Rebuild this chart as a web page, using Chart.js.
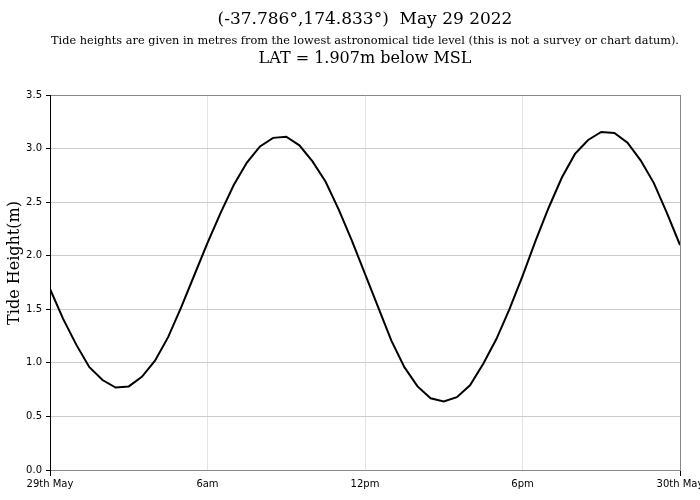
<!DOCTYPE html>
<html>
<head>
<meta charset="utf-8">
<script src="https://cdn.jsdelivr.net/npm/chart.js@4"></script>
<style>
  html, body { margin: 0; padding: 0; background: #fff; }
  #wrap { width: 700px; height: 500px; }
</style>
</head>
<body>
<div id="wrap"><canvas id="c" width="700" height="500"></canvas></div>
<script>
// Hours since midnight, 29 May 2022 (30-minute steps)
const hours = [0,0.5,1,1.5,2,2.5,3,3.5,4,4.5,5,5.5,6,6.5,7,7.5,8,8.5,9,9.5,10,10.5,11,11.5,12,
  12.5,13,13.5,14,14.5,15,15.5,16,16.5,17,17.5,18,18.5,19,19.5,20,20.5,21,21.5,22,22.5,23,23.5,24];
// Tide height (m above LAT)
const heights = [1.69,1.41,1.17,0.96,0.84,0.77,0.78,0.87,1.02,1.24,1.52,1.82,2.12,2.40,2.66,2.87,3.02,3.10,3.11,3.03,2.88,2.69,2.43,2.14,1.83,
  1.52,1.21,0.96,0.78,0.67,0.64,0.68,0.79,0.99,1.22,1.50,1.81,2.14,2.45,2.73,2.95,3.08,3.155,3.145,3.055,2.89,2.68,2.40,2.10];
const xTickValues = [0,6,12,18,24];
const xTickLabels = ['29th May','6am','12pm','6pm','30th May'];
const yTicks = [0,0.5,1,1.5,2,2.5,3,3.5];

const titleText = '(-37.786°,174.833°)  May 29 2022';
const subtitleText = 'Tide heights are given in metres from the lowest astronomical tide level (this is not a survey or chart datum).';
const latText = 'LAT = 1.907m below MSL';
const yTitle = 'Tide Height(m)';

const headerPlugin = {
  id: 'header',
  afterDraw(chart) {
    const ctx = chart.ctx;
    const cx = (chart.chartArea.left + chart.chartArea.right) / 2;
    ctx.save();
    ctx.fillStyle = '#000';
    ctx.textAlign = 'center';
    ctx.textBaseline = 'middle';
    ctx.font = '17px "DejaVu Serif"';
    ctx.fillText(titleText, cx, 20);
    ctx.font = '11.3px "DejaVu Serif"';
    ctx.fillText(subtitleText, cx, 41);
    ctx.font = '16px "DejaVu Serif"';
    ctx.fillText(latText, cx, 59);
    // y-axis title
    ctx.translate(15, 263);
    ctx.rotate(-Math.PI / 2);
    ctx.font = '16px "DejaVu Serif"';
    ctx.fillText(yTitle, 0, 0);
    ctx.restore();
  }
};

new Chart(document.getElementById('c'), {
  type: 'line',
  data: {
    datasets: [{
      data: hours.map((h, i) => ({ x: h, y: heights[i] })),
      borderColor: '#000',
      borderWidth: 2,
      pointRadius: 0,
      tension: 0,
      fill: false
    }]
  },
  options: {
    responsive: false,
    animation: false,
    layout: { padding: { top: 95, right: 20, left: 0, bottom: 0 } },
    plugins: { legend: { display: false }, tooltip: { enabled: false }, title: { display: false } },
    scales: {
      x: {
        type: 'linear',
        min: 0, max: 24,
        afterBuildTicks(s) { s.ticks = xTickValues.map(v => ({ value: v })); },
        afterFit(s) { s.height = 30; s.paddingLeft = 0; s.paddingRight = 0; },
        ticks: {
          callback: (v) => xTickLabels[xTickValues.indexOf(v)],
          color: '#000',
          font: { family: 'DejaVu Sans', size: 10 },
          maxRotation: 0, autoSkip: false, padding: 2
        },
        grid: {
          color: (c) => c.index === 0 ? 'rgba(0,0,0,0)' : (c.index === 4 ? '#888' : '#e3e3e3'),
          tickColor: (c) => (c.index === 0 || c.index === 4) ? '#000' : 'rgba(0,0,0,0)',
          tickLength: 6
        },
        border: { color: '#888', width: 1 }
      },
      y: {
        min: 0, max: 3.5,
        afterBuildTicks(s) { s.ticks = yTicks.map(v => ({ value: v })); },
        afterFit(s) { s.width = 50; },
        ticks: {
          callback: (v) => v.toFixed(1),
          color: '#000',
          font: { family: 'DejaVu Sans', size: 10 },
          padding: 4
        },
        grid: {
          color: (c) => c.index === 7 ? '#888' : '#cccccc',
          tickColor: '#000',
          tickLength: 4
        },
        border: { color: '#000', width: 1 },
        title: { display: false }
      }
    }
  },
  plugins: [headerPlugin]
});
</script>
</body>
</html>
